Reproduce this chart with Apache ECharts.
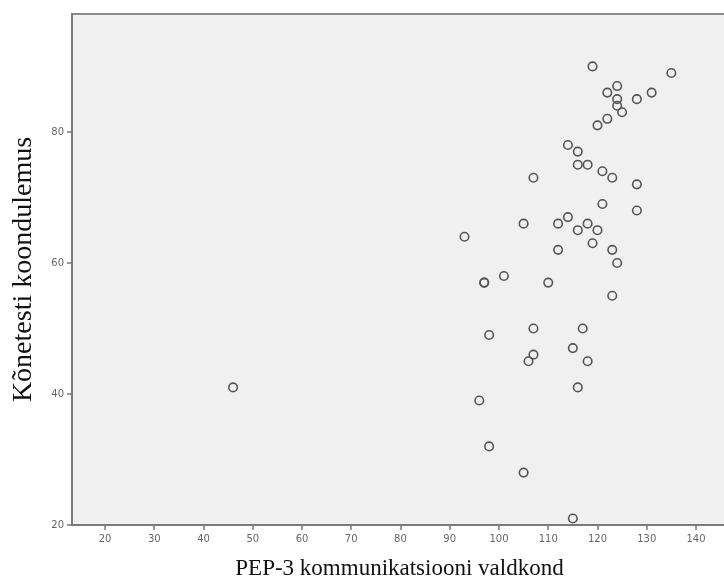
<!DOCTYPE html>
<html>
<head>
<meta charset="utf-8">
<script src="https://cdn.jsdelivr.net/npm/echarts@6/dist/echarts.min.js"></script>
<style>
html,body{margin:0;padding:0;background:#fff;}
#chart{width:724px;height:581px;}
</style>
</head>
<body>
<div id="chart"></div>
<script>
var xTitle = 'PEP-3 kommunikatsiooni valdkond';
var yTitle = 'Kõnetesti koondulemus';
var xTicks = [20, 30, 40, 50, 60, 70, 80, 90, 100, 110, 120, 130, 140];
var yTicks = [20, 40, 60, 80];
var pepValues = [46, 93, 97, 97, 101, 110, 98, 107, 107, 106, 117, 115, 118, 116, 96, 98, 105, 115, 124, 123,
  119, 135, 124, 122, 131, 124, 128, 124, 125, 122, 120, 114, 116, 116, 118, 121, 123, 107, 128, 121,
  128, 105, 112, 114, 118, 116, 120, 119, 112, 123];
var speechValues = [41, 64, 57, 57, 58, 57, 49, 50, 46, 45, 50, 47, 45, 41, 39, 32, 28, 21, 60, 55,
  90, 89, 87, 86, 86, 85, 85, 84, 83, 82, 81, 78, 77, 75, 75, 74, 73, 73, 72, 69,
  68, 66, 66, 67, 66, 65, 65, 63, 62, 62];

var points = pepValues.map(function (v, i) { return [v, speechValues[i]]; });

var chart = echarts.init(document.getElementById('chart'));
chart.setOption({
  animation: false,
  backgroundColor: '#ffffff',
  grid: {
    left: 72, top: 14, right: -3, bottom: 56,
    outerBoundsMode: 'none', containLabel: false,
    show: true, backgroundColor: '#f0f0f0', borderColor: '#8a8a8a', borderWidth: 2
  },
  xAxis: {
    type: 'value', min: 13.3, max: 146.3,
    name: xTitle, nameLocation: 'middle', nameGap: 32,
    nameTextStyle: { fontFamily: 'Liberation Serif', fontSize: 23, color: '#111' },
    splitLine: { show: false },
    axisLine: { show: true, onZero: false, lineStyle: { color: '#7a7a7a', width: 2 } },
    axisTick: { show: true, customValues: xTicks, length: 5, lineStyle: { color: '#7a7a7a', width: 1.5 } },
    axisLabel: { customValues: xTicks, fontFamily: 'DejaVu Sans', fontSize: 10, color: '#666', margin: 9 }
  },
  yAxis: {
    type: 'value', min: 20, max: 98,
    name: yTitle, nameLocation: 'middle', nameGap: 34,
    nameTextStyle: { fontFamily: 'Liberation Serif', fontSize: 28, color: '#111' },
    splitLine: { show: false },
    axisLine: { show: true, onZero: false, lineStyle: { color: '#7a7a7a', width: 2 } },
    axisTick: { show: true, customValues: yTicks, length: 5, lineStyle: { color: '#7a7a7a', width: 1.5 } },
    axisLabel: { customValues: yTicks, fontFamily: 'DejaVu Sans', fontSize: 10, color: '#666', margin: 8 }
  },
  series: [{
    type: 'scatter',
    data: points,
    symbol: 'circle',
    symbolSize: 8.5,
    itemStyle: { color: 'rgba(0,0,0,0)', borderColor: '#555', borderWidth: 1.6, opacity: 1 }
  }]
});
</script>
</body>
</html>
